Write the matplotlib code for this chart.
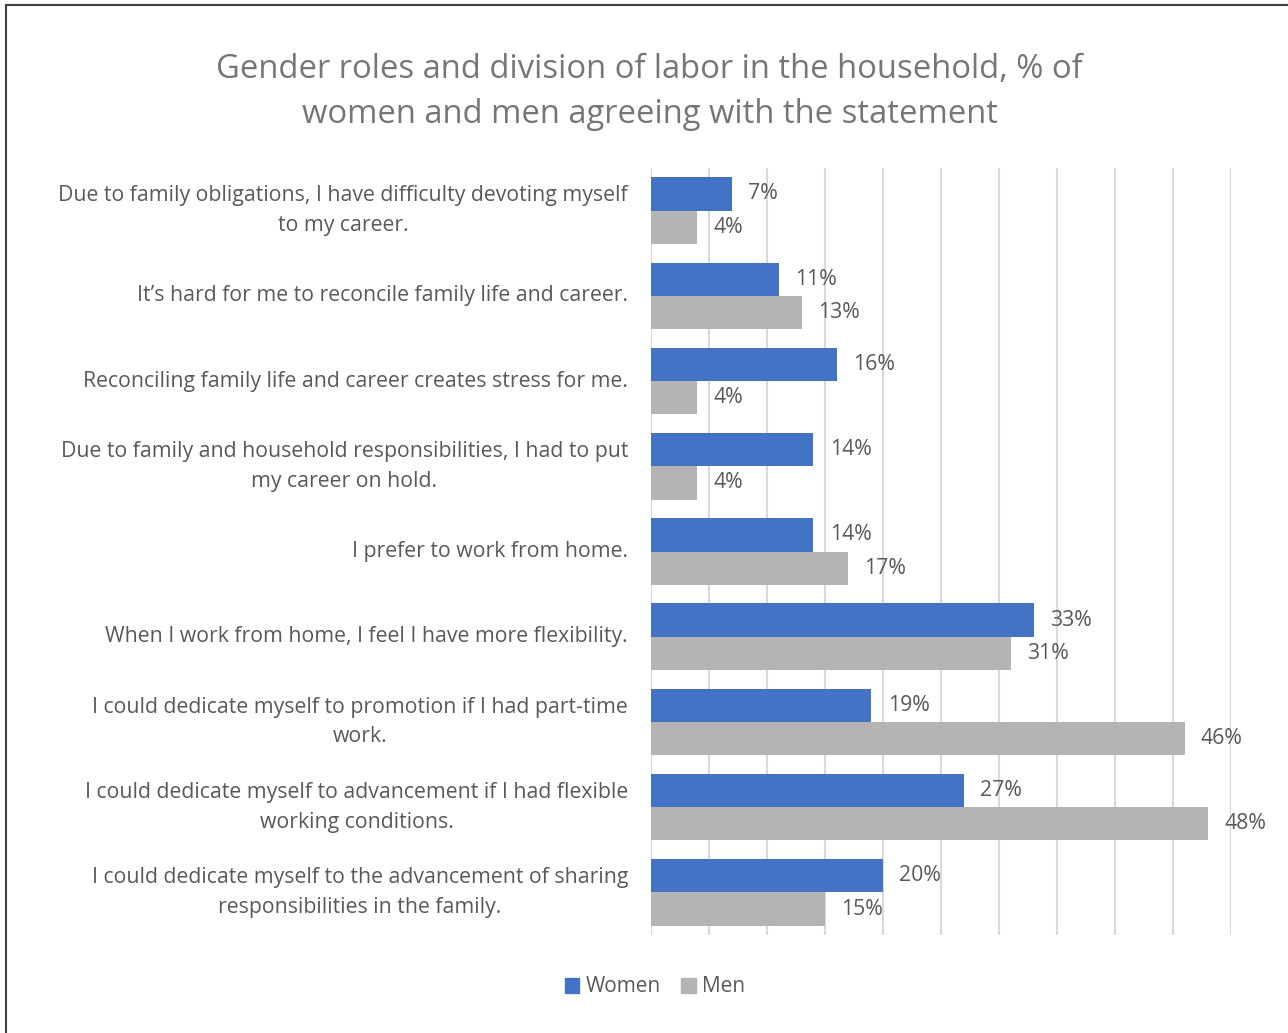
import matplotlib.pyplot as plt
import numpy as np
from matplotlib.patches import Patch
from matplotlib.lines import Line2D

# Survey statements and share agreeing (%)
statements = [
    "Due to family obligations, I have difficulty devoting myself\nto my career.",
    "It\u2019s hard for me to reconcile family life and career.",
    "Reconciling family life and career creates stress for me.",
    "Due to family and household responsibilities, I had to put\nmy career on hold.",
    "I prefer to work from home.",
    "When I work from home, I feel I have more flexibility.",
    "I could dedicate myself to promotion if I had part-time\nwork.",
    "I could dedicate myself to advancement if I had flexible\nworking conditions.",
    "I could dedicate myself to the advancement of sharing\nresponsibilities in the family.",
]
women = [7, 11, 16, 14, 14, 33, 19, 27, 20]
men = [4, 13, 4, 4, 17, 31, 46, 48, 15]

blue = "#4472C4"
grey = "#B4B4B4"
txt = "#595959"

plt.rcParams['font.family'] = ['Open Sans', 'DejaVu Sans']

fig = plt.figure(figsize=(12.88, 10.33), dpi=100)
ax = fig.add_axes([651 / 1288, 1 - 935 / 1033, 580 / 1288, 767 / 1033])

y = np.arange(len(statements))
h = 0.39
ax.barh(y - h / 2, women, height=h, color=blue, label="Women", zorder=3)
ax.barh(y + h / 2, men, height=h, color=grey, label="Men", zorder=3)

for yi, w, m in zip(y, women, men):
    ax.text(w + 1.4, yi - h / 2, f"{w}%", va="center", ha="left", fontsize=15.3, color=txt)
    ax.text(m + 1.4, yi + h / 2, f"{m}%", va="center", ha="left", fontsize=15.3, color=txt)

ax.set_xlim(0, 50)
ax.set_ylim(len(statements) - 0.5, -0.5)
ax.set_xticks(np.arange(0, 51, 5))
ax.set_xticklabels([])
ax.tick_params(axis="x", length=0)
ax.grid(axis="x", color="#D9D9D9", linewidth=1.5, zorder=0)
ax.set_yticks(y)
ax.set_yticklabels(statements, fontsize=15.3, color=txt, ha="right", va="center",
                   multialignment="center", linespacing=1.55)
ax.tick_params(axis="y", length=0, pad=16.5)
for s in ax.spines.values():
    s.set_visible(False)

fig.text(0.5045, 1 - 92 / 1033, "Gender roles and division of labor in the household, % of\nwomen and men agreeing with the statement",
         ha="center", va="center", fontsize=23.6, color="#767676", linespacing=1.45)

handles = [Patch(color=blue), Patch(color=grey)]
fig.legend(handles, ["Women", "Men"], loc="center", bbox_to_anchor=(655 / 1288, 1 - 987 / 1033),
           ncol=2, frameon=False, fontsize=15, labelcolor=txt, handlelength=0.7, handleheight=0.7,
           handletextpad=0.3, columnspacing=1.0)

# frame lines along the top and left edge
fig.add_artist(Line2D([6 / 1288, 1], [1 - 5 / 1033, 1 - 5 / 1033], color="#404040", linewidth=1.5))
fig.add_artist(Line2D([6 / 1288, 6 / 1288], [0, 1 - 5 / 1033], color="#404040", linewidth=1.5))

fig.savefig("out.png", dpi=100)
